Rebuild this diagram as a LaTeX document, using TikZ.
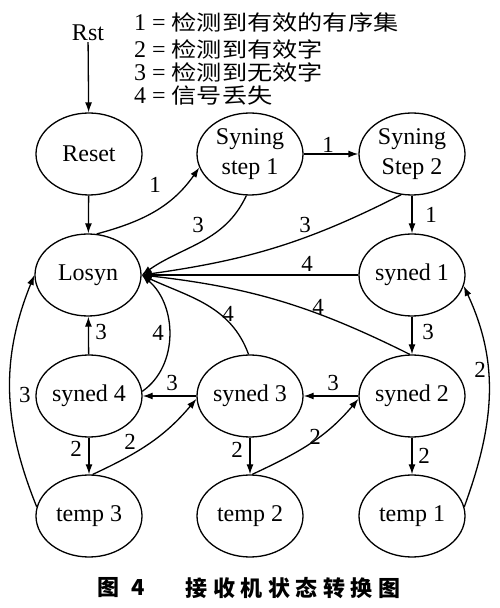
\documentclass[tikz,border=0pt]{standalone}
\usepackage{fontspec}
\setmainfont{Liberation Serif}
\newfontfamily\cjk{Noto Sans CJK SC}
\newfontfamily\cjkleg[FakeStretch=1.2]{Noto Sans CJK SC}
\usetikzlibrary{shapes.geometric,arrows.meta}
\begin{document}
\begin{tikzpicture}[x=1pt,y=1pt,
 st/.style={ellipse,draw,line width=1.3pt,minimum width=106pt,minimum height=82pt,inner sep=0pt,align=center,font=\fontsize{24}{30}\selectfont},
 arr/.style={line width=1.3pt,-{Latex[length=10pt,width=7pt]}},
 lab/.style={inner sep=0pt,font=\fontsize{23}{26}\selectfont},
 leg/.style={anchor=west,inner sep=0pt,font=\fontsize{24}{26}\selectfont},
 captext/.style={inner sep=0pt,font=\cjk\bfseries\fontsize{22}{24}\selectfont}]
\useasboundingbox (0,0) rectangle (500,608);
\fill[white] (0,0) rectangle (500,608);
% nodes
\node[inner sep=1pt,font=\fontsize{24}{26}\selectfont] (rst) at (88,575) {Rst};
\node[st] (reset) at (89,454) {Reset};
\node[st] (step1) at (250,454) {Syning\\step 1};
\node[st] (step2) at (412,454) {Syning\\Step 2};
\node[st] (losyn) at (88,333) {Losyn};
\node[st] (syned1) at (412,333) {syned 1};
\node[st] (syned4) at (89,212) {syned 4};
\node[st] (syned3) at (250,212) {syned 3};
\node[st] (syned2) at (412,212) {syned 2};
\node[st] (temp3) at (89,92) {temp 3};
\node[st] (temp2) at (250,92) {temp 2};
\node[st] (temp1) at (412,92) {temp 1};
% legend
\node[leg] (g1) at (134,586) {1 = {\cjkleg\fontsize{21}{23}\selectfont 检测到有效的有序集}};
\node[leg] (g2) at (134,559) {2 = {\cjkleg\fontsize{21}{23}\selectfont 检测到有效字}};
\node[leg] (g3) at (134,536) {3 = {\cjkleg\fontsize{21}{23}\selectfont 检测到无效字}};
\node[leg] (g4) at (134,512) {4 = {\cjkleg\fontsize{21}{23}\selectfont 信号丢失}};
% caption
\node[captext] (cap1) at (121,20) {图\hspace{12pt}4};
\node[captext] (cap2) at (293,20) {接\hspace{5.5pt}收\hspace{5.5pt}机\hspace{5.5pt}状\hspace{5.5pt}态\hspace{5.5pt}转\hspace{5.5pt}换\hspace{5.5pt}图};
% edges
\draw[arr] (rst) -- (reset);
\draw[arr] (reset) -- (losyn);
\draw[arr] (losyn.78) to[out=15,in=235] (step1.195);
\draw[arr] (step1) -- (step2);
\draw[arr] (step1.265) to[out=245,in=35] (losyn.east);
\draw[arr] (step2.255) to[out=207,in=8] (losyn.east);
\draw[arr] (step2) -- (syned1);
\draw[arr] (syned1) -- (losyn);
\draw[arr] (syned1) -- (syned2);
\draw[arr] (syned2.93) to[bend right=10] (losyn.east);
\draw[arr] (syned3.92) to[out=110,in=-25] (losyn.east);
\draw[arr] (syned4.5) to[out=35,in=-40] (losyn.east);
\draw[arr] (syned4) -- (losyn);
\draw[arr] (temp3.170) to[out=112,in=248] (losyn.west);
\draw[arr] (syned3) -- (syned4);
\draw[arr] (syned2) -- (syned3);
\draw[arr] (syned4) -- (temp3);
\draw[arr] (temp3.85) to[out=25,in=230] (syned3.183);
\draw[arr] (syned3) -- (temp2);
\draw[arr] (temp2.87) to[out=25,in=230] (syned2.183);
\draw[arr] (syned2) -- (temp1);
\draw[arr] (temp1.10) to[out=70,in=-65] (syned1.-12);
% labels
\node[lab] (la) at (155,423) {1};
\node[lab] (lb) at (328,463) {1};
\node[lab] (lc) at (198,383) {3};
\node[lab] (ld) at (305,383) {3};
\node[lab] (le) at (431,393) {1};
\node[lab] (lf) at (307,344) {4};
\node[lab] (lg) at (428,276) {3};
\node[lab] (lh) at (318,301) {4};
\node[lab] (li) at (228,294) {4};
\node[lab] (lj) at (158,275) {4};
\node[lab] (lk) at (101,276) {3};
\node[lab] (ll) at (25,213) {3};
\node[lab] (lm) at (172,225) {3};
\node[lab] (ln) at (333,225) {3};
\node[lab] (lo) at (76,159) {2};
\node[lab] (lp) at (130,166) {2};
\node[lab] (lq) at (237,158) {2};
\node[lab] (lr) at (315,171) {2};
\node[lab] (ls) at (424,152) {2};
\node[lab] (lt) at (480,238) {2};
\end{tikzpicture}
\end{document}
